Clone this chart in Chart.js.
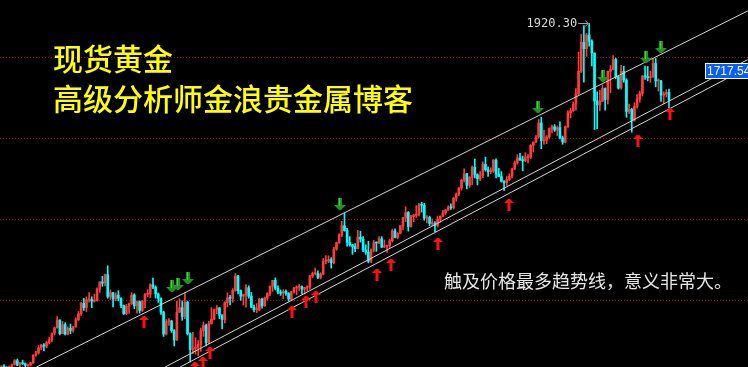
<!DOCTYPE html>
<html>
<head>
<meta charset="utf-8">
<script src="https://cdn.jsdelivr.net/npm/chart.js@4.4.1/dist/chart.umd.min.js"></script>
<style>
html,body{margin:0;padding:0;background:#000;overflow:hidden;}
canvas{display:block;}
</style>
</head>
<body>
<canvas id="c" width="748" height="367"></canvas>
<script>
// Weekly spot gold (XAU/USD), week of 2007-06-11 to 2012-04-02
const firstWeek = '2007-06-11';
const open = [
660,664,661,657,665,672,686,670,677,675,
668,671,678,706,715,733,743,739,752,763,
787,806,835,785,818,783,805,797,811,836,
858,896,880,909,910,904,906,948,974,970,
1001,921,935,912,926,915,888,858,885,895,
926,887,902,870,904,929,930,964,955,930,
914,864,784,829,831,796,762,864,880,847,
900,785,727,731,736,745,796,815,752,822,
838,873,879,853,836,899,916,914,943,996,
942,922,928,953,922,882,873,873,911,887,
915,931,958,980,951,937,933,940,933,912,
937,952,955,957,948,954,957,996,1005,1005,
991,1003,1050,1051,1056,1045,1095,1118,1146,1180,
1162,1119,1110,1104,1096,1138,1131,1092,1083,1050,
1090,1118,1117,1132,1102,1104,1107,1125,1161,1137,
1152,1180,1209,1228,1177,1213,1218,1222,1256,1255,
1208,1210,1188,1188,1181,1204,1215,1227,1237,1247,
1246,1280,1297,1318,1346,1370,1328,1357,1394,1367,
1352,1363,1405,1385,1378,1380,1420,1369,1360,1342,
1337,1349,1361,1388,1410,1428,1420,1418,1430,1431,
1474,1486,1505,1556,1491,1493,1505,1536,1542,1530,
1539,1502,1486,1542,1593,1601,1625,1663,1745,1851,
1828,1878,1855,1812,1637,1622,1636,1682,1642,1745,
1752,1788,1725,1684,1745,1713,1598,1606,1566,1616,
1643,1664,1727,1725,1722,1725,1774,1710,1710,1658,
1662,1668];
const high = [
668,672,664,667,674,690,692,680,688,678,
674,680,708,720,742,746,749,758,771,787,
809,848,836,830,825,810,820,812,843,866,
900,914,920,935,920,930,953,976,995,1003,
1033,945,936,935,942,916,890,892,897,935,
931,905,905,906,932,946,968,988,960,934,
916,867,837,840,834,800,903,913,905,936,
904,788,790,770,760,805,828,820,830,880,
875,888,881,855,902,935,925,950,1005,998,
945,930,965,960,936,890,895,915,915,919,
935,960,980,989,960,945,946,945,935,940,
955,960,965,960,955,960,998,1011,1025,1015,
1008,1060,1071,1070,1063,1101,1120,1150,1196,1227,
1170,1140,1112,1115,1163,1160,1140,1110,1123,1095,
1127,1120,1140,1140,1128,1109,1130,1168,1169,1155,
1180,1211,1249,1232,1218,1222,1253,1262,1266,1262,
1217,1215,1205,1195,1215,1216,1236,1240,1253,1260,
1284,1300,1320,1350,1388,1372,1360,1398,1424,1370,
1378,1414,1431,1395,1392,1422,1425,1390,1378,1345,
1360,1370,1390,1417,1440,1445,1435,1447,1440,1477,
1487,1510,1569,1577,1530,1510,1538,1548,1550,1545,
1560,1508,1545,1600,1610,1633,1682,1815,1881,1912,
1885,1920.3,1860,1812,1670,1675,1695,1685,1746,1766,
1803,1793,1727,1767,1764,1718,1625,1610,1630,1660,
1673,1730,1764,1763,1746,1790,1792,1718,1712,1670,
1678,1680];
const low = [
655,658,652,655,662,670,668,664,672,656,
662,666,676,703,710,726,722,733,747,755,
780,805,780,785,780,780,785,790,808,833,
852,870,865,900,880,900,904,936,958,960,
915,910,883,905,905,880,855,855,860,892,
876,860,860,866,880,920,917,950,915,900,
855,775,780,815,790,740,760,862,834,840,
780,681,712,710,705,720,775,740,748,820,
836,858,840,802,824,883,890,900,940,930,
907,890,882,915,880,865,862,869,878,885,
908,923,940,945,930,925,913,925,904,905,
933,928,943,930,930,940,948,990,1000,986,
985,1000,1040,1045,1025,1040,1090,1115,1140,1160,
1105,1105,1075,1085,1095,1120,1085,1075,1044,1045,
1084,1086,1114,1100,1100,1082,1100,1120,1135,1132,
1150,1165,1195,1160,1175,1195,1210,1216,1230,1200,
1190,1180,1180,1158,1175,1192,1212,1220,1236,1240,
1241,1270,1290,1310,1340,1315,1320,1330,1355,1329,
1345,1356,1380,1360,1370,1375,1355,1360,1340,1308,
1327,1345,1355,1385,1405,1420,1381,1414,1410,1425,
1450,1485,1500,1462,1478,1480,1500,1520,1525,1510,
1498,1478,1483,1540,1575,1598,1603,1660,1740,1705,
1800,1837,1765,1532,1535,1600,1634,1603,1625,1667,
1750,1718,1680,1680,1705,1577,1590,1522,1562,1610,
1632,1655,1715,1710,1705,1723,1688,1673,1635,1627,
1651,1612];
const close = [
664,661,657,665,672,686,670,677,675,668,
671,678,706,715,733,743,739,752,763,787,
806,835,785,818,783,805,797,811,836,858,
896,880,909,910,904,906,948,974,970,1001,
921,935,912,926,915,888,858,885,895,926,
887,902,870,904,929,930,964,955,930,914,
864,784,829,831,796,762,864,880,847,900,
785,727,731,736,745,796,815,752,822,838,
873,879,853,836,899,916,914,943,996,942,
922,928,953,922,882,873,873,911,887,915,
931,958,980,951,937,933,940,933,912,937,
952,955,957,948,954,957,996,1005,1005,991,
1003,1050,1051,1056,1045,1095,1118,1146,1180,1162,
1119,1110,1104,1096,1138,1131,1092,1083,1050,1090,
1118,1117,1132,1102,1104,1107,1125,1161,1137,1152,
1180,1209,1228,1177,1213,1218,1222,1256,1255,1208,
1210,1188,1188,1181,1204,1215,1227,1237,1247,1246,
1280,1297,1318,1346,1370,1328,1357,1394,1367,1352,
1363,1405,1385,1378,1380,1420,1369,1360,1342,1337,
1349,1361,1388,1410,1428,1420,1418,1430,1431,1474,
1486,1505,1556,1491,1493,1505,1536,1542,1530,1539,
1502,1486,1542,1593,1601,1625,1663,1745,1851,1828,
1878,1855,1812,1637,1622,1636,1682,1642,1745,1752,
1788,1725,1684,1745,1713,1598,1606,1566,1616,1643,
1664,1727,1725,1722,1725,1774,1710,1710,1658,1662,
1668,1640];

// trend lines: [barIndex, price] end points
const channelTop   = [[13.2, 663], [280.6, 1966]];
const supportOne   = [[61.6, 663], [280.6, 1788]];
const supportTwo   = [[67.2, 663], [280.6, 1759]];
// touch markers: [barIndex, price]
const sellArrows = [[64.2,937],[66.5,945],[70.2,967],[127.3,1238],[201.7,1593],[226.1,1706],[242.3,1776],[247.9,1813]];
const buyArrows  = [[53.7,849],[72.9,681],[75.9,699],[78.5,736],[109.3,886],[114.6,923],[118.3,941],[141.2,1022],[146.5,1058],[164.2,1135],[190.8,1278],[239.3,1512],[251.3,1611]];
// horizontal grid levels
const gridLevels = [908, 1205, 1501, 1798];
const lastPriceText = '1717.54';
const highText = '1920.30';
const titleLines = ['现货黄金', '高级分析师金浪贵金属博客'];
const note = '触及价格最多趋势线，意义非常大。';

// week labels
const weeks = [];
{ const d0 = new Date(firstWeek + 'T00:00:00Z');
  for (let i = 0; i < close.length; i++) { const d = new Date(d0.getTime() + i*7*86400000); weeks.push(d.toISOString().slice(0,10)); } }

const UP = '#ff3b3b', DOWN = '#00ffff';
const colors = close.map((c, i) => c >= open[i] ? UP : DOWN);
const bodies = close.map((c, i) => ({x: i, y: [open[i], c]}));
const wicks = close.map((c, i) => ({x: i, y: [low[i], high[i]]}));
const toPts = arr => arr.map(p => ({x: p[0], y: p[1]}));

const bgPlugin = {
  id: 'bg',
  beforeDraw(chart) {
    const c = chart.ctx; c.save(); c.fillStyle = '#000'; c.fillRect(0,0,chart.width,chart.height); c.restore();
  },
  beforeDatasetsDraw(chart) {
    const c = chart.ctx, y = chart.scales.y;
    c.save(); c.strokeStyle = '#9a1414'; c.lineWidth = 1; c.setLineDash([1,2]);
    gridLevels.forEach(v => { const py = Math.round(y.getPixelForValue(v)) + 0.5; c.beginPath(); c.moveTo(0, py); c.lineTo(chart.width, py); c.stroke(); });
    c.restore();
  },
  afterDatasetsDraw(chart) {
    const c = chart.ctx, xs = chart.scales.x, ys = chart.scales.y;
    c.save();
    sellArrows.forEach(a => {
      const px = Math.round(xs.getPixelForValue(a[0])), py = Math.round(ys.getPixelForValue(a[1]));
      c.fillStyle = '#1c961c';
      c.fillRect(px - 2, py - 12, 4, 8);
      c.beginPath(); c.moveTo(px - 6, py - 5); c.lineTo(px + 6, py - 5); c.lineTo(px + 1, py); c.lineTo(px - 1, py); c.closePath(); c.fill();
      c.fillStyle = '#44d044'; c.fillRect(px - 1, py - 12, 1, 8);
    });
    buyArrows.forEach(a => {
      const px = Math.round(xs.getPixelForValue(a[0])), py = Math.round(ys.getPixelForValue(a[1]));
      c.fillStyle = '#ff1010';
      c.beginPath(); c.moveTo(px - 1, py); c.lineTo(px + 1, py); c.lineTo(px + 5, py + 4); c.lineTo(px - 5, py + 4); c.closePath(); c.fill();
      c.fillRect(px - 1.5, py + 4, 3, 8);
    });
    // high marker
    const hi = Math.max(...high), hiIdx = high.indexOf(hi);
    const hx = xs.getPixelForValue(hiIdx), hy = Math.round(ys.getPixelForValue(hi)) + 0.5;
    c.strokeStyle = '#a0a0a0'; c.lineWidth = 1;
    c.beginPath(); c.moveTo(hx - 11, hy); c.lineTo(hx - 1, hy); c.stroke();
    c.beginPath(); c.moveTo(hx - 4, hy - 3); c.lineTo(hx - 1, hy); c.lineTo(hx - 4, hy + 3); c.stroke();
    c.fillStyle = '#d8d8d8'; c.font = '12px "DejaVu Sans Mono"'; c.textAlign = 'right'; c.textBaseline = 'middle';
    c.fillText(highText, hx - 12, hy);
    c.restore();
  },
  afterDraw(chart) {
    const c = chart.ctx;
    c.save();
    c.fillStyle = '#ffff00'; c.textBaseline = 'alphabetic'; c.textAlign = 'left';
    c.font = '500 30px "Noto Sans CJK SC"';
    c.fillText(titleLines[0], 53, 70);
    c.fillText(titleLines[1], 53, 110);
    c.fillStyle = '#e6e6e6'; c.font = '18px "Noto Sans CJK SC"';
    c.fillText(note, 444, 288);
    // price tag
    c.fillStyle = '#0a5cff'; c.fillRect(705, 63, 45, 16);
    c.strokeStyle = '#ffffff'; c.lineWidth = 1; c.strokeRect(705.5, 63.5, 45, 15);
    c.fillStyle = '#ffffff'; c.font = '12px "Liberation Sans"'; c.textBaseline = 'middle';
    c.fillText(lastPriceText, 707, 71.5);
    c.restore();
  }
};

const lineDs = (pts) => ({type: 'line', data: toPts(pts), borderColor: '#d4d4d4', borderWidth: 1, pointRadius: 0, fill: false, order: 0});

new Chart(document.getElementById('c'), {
  type: 'bar',
  data: {
    labels: weeks,
    datasets: [
      lineDs(channelTop), lineDs(supportOne), lineDs(supportTwo),
      {label: 'body', data: bodies, backgroundColor: colors, borderWidth: 0, barThickness: 2, minBarLength: 1, grouped: false, order: 1},
      {label: 'wick', data: wicks, backgroundColor: colors, borderWidth: 0, barThickness: 1, grouped: false, order: 2}
    ]
  },
  options: {
    responsive: false, animation: false, devicePixelRatio: 1,
    layout: {padding: 0},
    plugins: {legend: {display: false}, tooltip: {enabled: false}},
    scales: {
      x: {type: 'linear', offset: false, min: -0.5, max: 280.7, display: false},
      y: {type: 'linear', min: 663, max: 2006, display: false}
    }
  },
  plugins: [bgPlugin]
});
</script>
</body>
</html>
